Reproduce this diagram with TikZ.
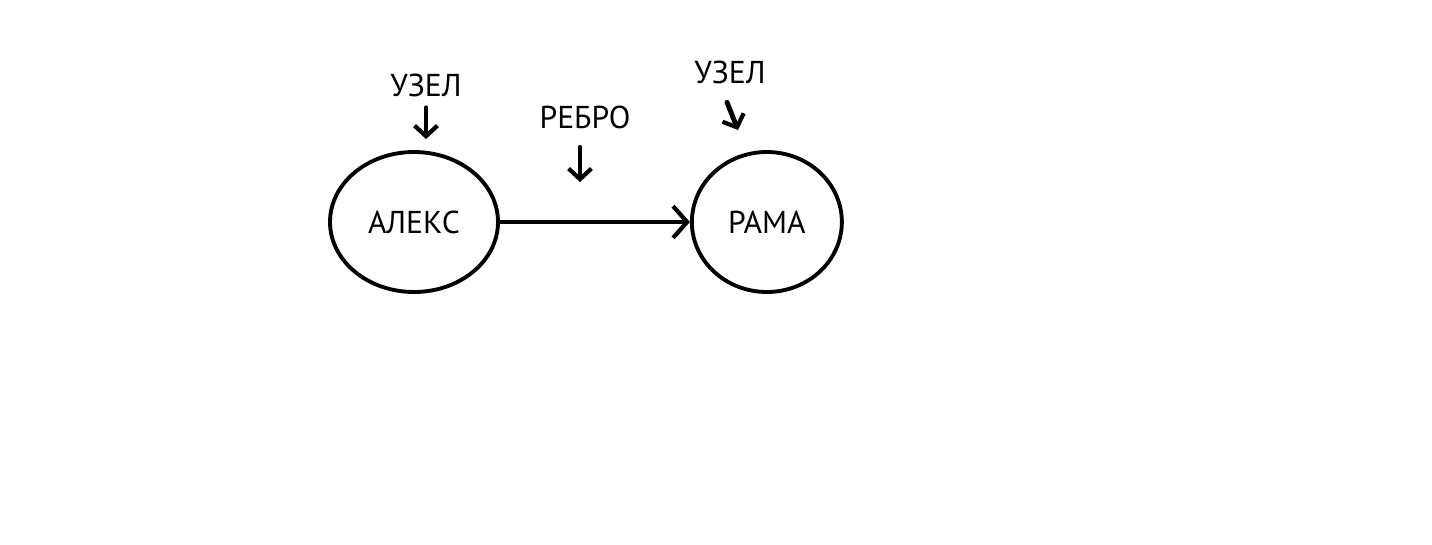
\documentclass[tikz,border=0pt]{standalone}
\usepackage{fontspec}
\setmainfont{PT Sans}
\usepackage{tikz}
\usetikzlibrary{arrows.meta,positioning,shapes.geometric}

\begin{document}
\begin{tikzpicture}[
  bubble/.style={draw, ellipse, line width=2.2pt, minimum height=2.8cm, font=\fontsize{18}{20}\selectfont},
  arr/.style={-{Straight Barb[length=6pt,width=13pt,line width=2.4pt]}, line width=2.8pt, line cap=round},
  edgearr/.style={-{Straight Barb[length=8pt,width=18pt,line width=2.4pt]}, line width=2.8pt, line cap=round},
  lbl/.style={font=\fontsize{18}{20}\selectfont, inner sep=2pt}
]
  \useasboundingbox (0,0) rectangle (28.64,-10.88);
  \node[bubble, minimum width=3.36cm] (alex) at (8.28,-4.44) {АЛЕКС};
  \node[bubble, minimum width=3.0cm, right=3.8cm of alex] (rama) {РАМА};
  \draw[edgearr] (alex.east) -- (rama.west);
  % labels with their little arrows
  \node[lbl] (uzelA) at (8.52,-1.70) {УЗЕЛ};
  \node[lbl] (uzelB) at (14.6,-1.44) {УЗЕЛ};
  \node[lbl] (rebro) at (11.7,-2.34) {РЕБРО};
  \coordinate (rebroTip) at (11.6,-3.64);
  \coordinate (uzelBTip) at (14.76,-2.6);
  \draw[arr, shorten <=0.15cm, shorten >=0.22cm] (uzelA) -- (uzelA |- alex.north);
  \draw[arr, shorten <=0.3cm] (rebroTip |- rebro.south) -- (rebroTip);
  \draw[arr] (uzelB.south) ++(-0.06,-0.3) -- (uzelBTip);
\end{tikzpicture}
\end{document}
